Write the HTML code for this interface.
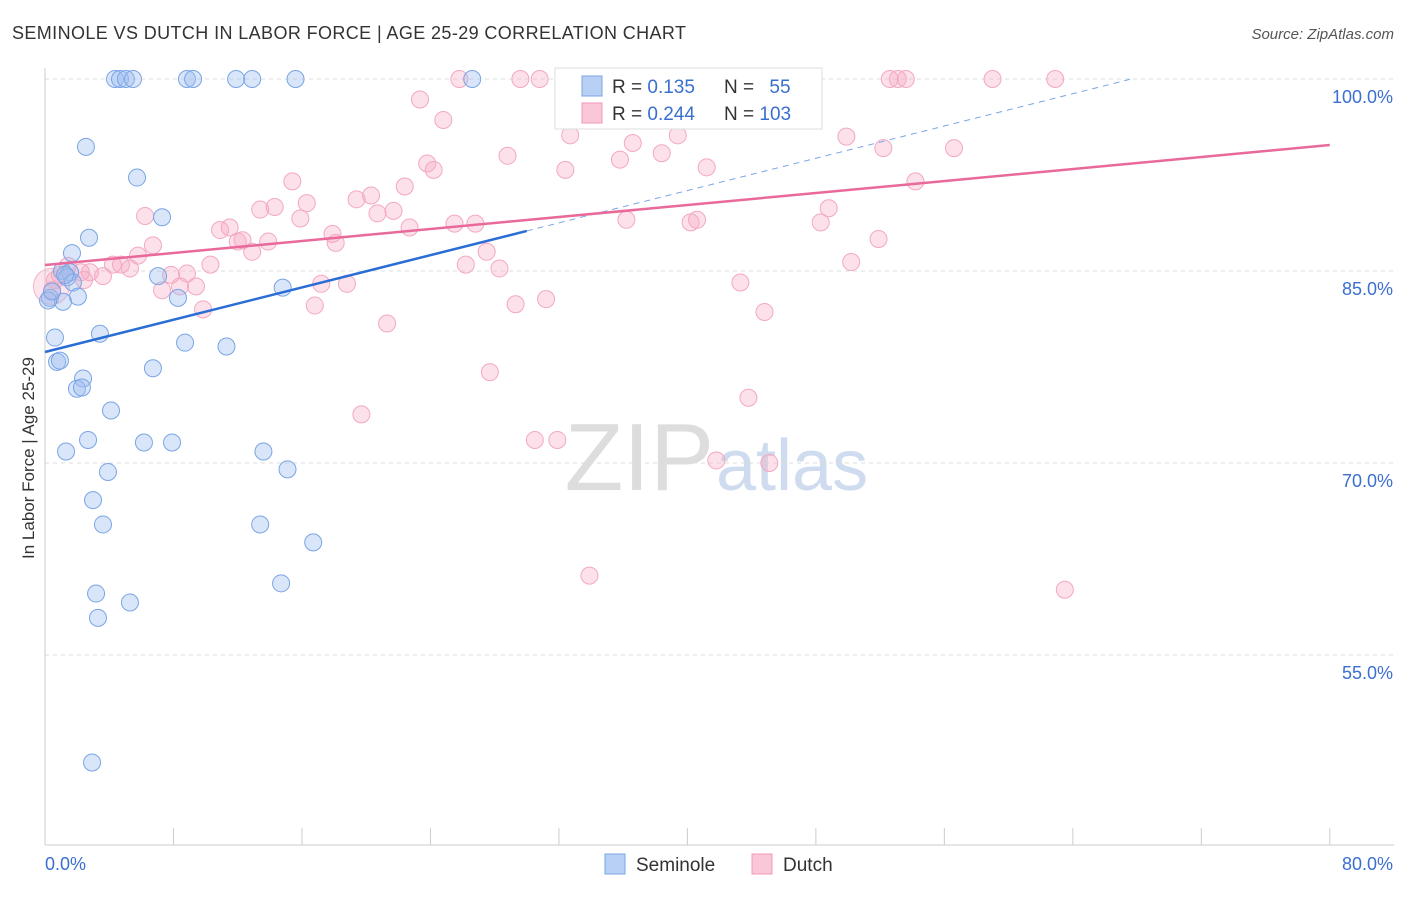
<!DOCTYPE html>
<html><head><meta charset="utf-8"><style>
body{margin:0;background:#fff;font-family:"Liberation Sans",sans-serif;}
svg text{font-family:"Liberation Sans",sans-serif;}
</style></head><body>
<svg id="chart" width="1406" height="892">
<text x="12" y="39" font-size="18" fill="#333" textLength="674" lengthAdjust="spacing">SEMINOLE VS DUTCH IN LABOR FORCE | AGE 25-29 CORRELATION CHART</text>
<text x="1394" y="39" font-size="15" fill="#555" font-style="italic" text-anchor="end">Source: ZipAtlas.com</text>
<text x="34" y="458" font-size="17" fill="#333" text-anchor="middle" transform="rotate(-90 34 458)">In Labor Force | Age 25-29</text>
<text x="714" y="490" font-size="96" fill="#ddd" text-anchor="end" font-family="Liberation Serif">ZIP</text>
<text x="716" y="490" font-size="72" fill="#cfdcef">atlas</text>
<g id="grid"></g><g id="pts"></g><g id="lines"></g>
<g>
<rect x="555" y="68" width="267" height="61" fill="#fff" stroke="#ddd"/>
<rect x="582" y="76" width="20" height="20" fill="#b9d0f5" stroke="#7aa5e5"/>
<rect x="582" y="103" width="20" height="20" fill="#f9c7d7" stroke="#f09ab8"/>
<text x="612" y="93" font-size="19" fill="#333">R = <tspan fill="#3a6fd0">0.135</tspan></text>
<text x="724" y="93" font-size="19" fill="#333">N = <tspan fill="#3a6fd0" dx="10">55</tspan></text>
<text x="612" y="120" font-size="19" fill="#333">R = <tspan fill="#3a6fd0">0.244</tspan></text>
<text x="724" y="120" font-size="19" fill="#333">N = <tspan fill="#3a6fd0">103</tspan></text>
</g>
<g>
<rect x="605" y="854" width="20" height="20" fill="#b9d0f5" stroke="#7aa5e5"/>
<text x="636" y="871" font-size="19" fill="#333">Seminole</text>
<rect x="752" y="854" width="20" height="20" fill="#f9c7d7" stroke="#f09ab8"/>
<text x="783" y="871" font-size="19" fill="#333">Dutch</text>
</g>
</svg>
<script>
const yTicks=[100,85,70,55];
const xTickLabels=["0.0%","80.0%"];
const blueX=[4.36,4.67,5.04,5.48,8.84,9.22,11.9,12.9,15.6,26.6,2.55,5.73,7.29,2.74,1.68,1.06,1.56,1.37,7.04,1.74,2.05,0.31,1.12,8.28,14.8,3.42,0.62,0.75,0.93,8.72,11.3,6.72,2.37,1.99,2.30,4.11,2.68,6.16,7.91,1.31,13.6,3.92,15.1,2.99,3.61,13.4,16.7,14.7,3.18,5.29,3.30,2.93,0.19,0.44,1.25];
const blueY=[100,100,100,100,100,100,100,100,100,100,94.7,92.3,89.2,87.6,86.4,85.0,84.9,84.5,84.6,84.1,83.0,82.9,82.6,82.9,83.7,80.1,79.8,77.9,78.0,79.4,79.1,77.4,76.6,75.8,75.9,74.1,71.8,71.6,71.6,70.9,70.9,69.3,69.5,67.1,65.2,65.2,63.8,60.6,59.8,59.1,57.9,46.6,82.7,83.4,84.7];
const pinkX=[23.35,24.8,25.8,29.6,30.8,33.2,35.2,42.0,46.7,52.6,53.1,53.6,59.0,62.9,32.7,39.4,36.6,49.9,28.8,38.4,52.2,56.6,35.8,23.8,24.2,32.4,41.2,15.4,22.4,54.2,16.3,19.4,20.3,6.23,14.3,13.4,21.7,15.9,20.7,10.9,11.5,22.7,25.5,26.8,36.2,40.2,40.6,48.8,48.3,17.9,12.0,12.3,13.9,12.9,18.1,6.72,51.9,27.5,5.79,4.23,4.73,5.29,10.3,26.2,28.3,50.2,1.43,2.24,2.80,3.61,7.85,8.84,2.43,7.29,8.41,9.40,17.2,18.8,43.3,29.3,31.2,16.8,9.84,44.8,21.3,27.7,43.8,19.7,30.5,31.9,41.8,45.1,33.9,63.5,0.44,0.62,0.93];
const pinkY=[98.4,96.8,100,100,100,100,100,100,100,100,100,100,100,100,95.6,95.6,95.0,95.5,94.0,94.2,94.6,94.6,93.7,93.4,92.9,92.9,93.1,92.0,91.6,92.0,90.3,90.6,90.9,89.3,90.0,89.8,89.7,89.1,89.5,88.2,88.4,88.4,88.7,88.7,89.0,88.8,89.0,89.9,88.8,87.9,87.3,87.4,87.3,86.5,87.2,87.0,87.5,86.5,86.2,85.5,85.5,85.2,85.5,85.5,85.2,85.7,85.4,84.9,84.9,84.6,84.7,84.8,84.3,83.5,83.8,83.8,84.0,84.0,84.1,82.4,82.8,82.3,82.0,81.8,80.9,77.1,75.1,73.8,71.8,71.8,70.2,70.0,61.2,60.1,83.5,84.3,84.7];
const blueTrend=[78.67,88.13];
const pinkTrend=[85.47,94.84];
const X=v=>45+v*16.06, Y=v=>79+(100-v)*12.8;
const NS="http://www.w3.org/2000/svg";
function mk(p,t,a){const e=document.createElementNS(NS,t);for(const k in a)e.setAttribute(k,a[k]);p.appendChild(e);return e;}
const g=document.getElementById('grid');
yTicks.forEach(t=>{
 const l=mk(g,'line',{x1:45,x2:1394,y1:Y(t),y2:Y(t),stroke:'#ddd','stroke-dasharray':'4,4'});
 
 
 const tx=mk(g,'text',{x:1393,y:Y(t)+24,'font-size':18,fill:'#3a6fd0','text-anchor':'end'});tx.textContent=t.toFixed(1)+'%';
 
 
});
const ax=mk(g,'line',{x1:45,x2:1394,y1:845,y2:845,stroke:'#ccc'});


const ay=mk(g,'line',{x1:45,x2:45,y1:68,y2:845,stroke:'#ccc'});


for(let i=0;i<=10;i++){const t=mk(g,'line',{x1:X(i*8),x2:X(i*8),y1:828,y2:845,stroke:'#ccc'});
 
 }
const xl0=mk(g,'text',{x:45,y:870,'font-size':18,fill:'#3a6fd0'});xl0.textContent=xTickLabels[0];


const xl1=mk(g,'text',{x:1393,y:870,'font-size':18,fill:'#3a6fd0','text-anchor':'end'});xl1.textContent=xTickLabels[1];


const p=document.getElementById('pts');
const big=mk(p,'circle',{cx:X(0.4),cy:Y(83.8),r:18,fill:'rgba(245,170,195,0.3)',stroke:'#f3b3c8'});


pinkX.forEach((x,i)=>{const c=mk(p,'circle',{cx:X(x),cy:Y(pinkY[i]),r:8.5,fill:'rgba(245,170,195,0.35)',stroke:'#f3a8c2'});
 
 });
blueX.forEach((x,i)=>{const c=mk(p,'circle',{cx:X(x),cy:Y(blueY[i]),r:8.5,fill:'rgba(160,190,240,0.4)',stroke:'#7aa5e5'});
 
 });
const L=document.getElementById('lines');
const bs=(blueTrend[1]-blueTrend[0])/30, bxEnd=(100-blueTrend[0])/bs;
const bl=mk(L,'line',{x1:X(0),y1:Y(blueTrend[0]),x2:X(30),y2:Y(blueTrend[1]),stroke:'#2a6dd4','stroke-width':2.5});


const bd=mk(L,'line',{x1:X(30),y1:Y(blueTrend[1]),x2:X(bxEnd),y2:Y(100),stroke:'#7aa5e5','stroke-width':1,'stroke-dasharray':'6,5'});


const pl=mk(L,'line',{x1:X(0),y1:Y(pinkTrend[0]),x2:X(80),y2:Y(pinkTrend[1]),stroke:'#e8699a','stroke-width':2.5});


</script>
</body></html>
